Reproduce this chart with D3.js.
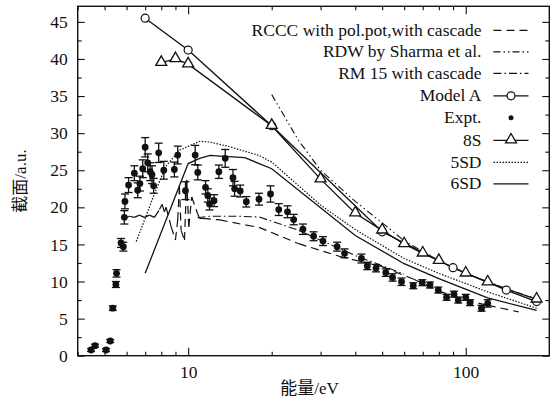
<!DOCTYPE html>
<html>
<head>
<meta charset="utf-8">
<script src="https://cdn.jsdelivr.net/npm/d3@7"></script>
<style>
body { margin: 0; background: #fff; }
text { font-family: "Liberation Serif", "Noto Sans CJK SC", serif; fill: #111; }
</style>
</head>
<body>
<div id="draw"></div>
<script>
// experimental points
var expE = [4.47, 4.62, 5.06, 5.24, 5.35, 5.49, 5.52, 5.73, 5.84, 5.89, 5.92, 6.1, 6.4, 6.58, 6.7, 6.86, 7.0, 7.15, 7.3, 7.41, 7.51, 7.83, 8.17, 8.92, 9.17, 9.78, 10.6, 10.83, 11.55, 11.77, 11.94, 12.4, 12.9, 13.6, 14.5, 14.7, 15.4, 16.2, 18.0, 19.8, 21.2, 22.8, 24.0, 25.9, 28.3, 30.6, 34.4, 36.6, 42.1, 44.2, 47.5, 51.5, 54.5, 58.7, 64.7, 69.7, 74.3, 79.6, 85.3, 90.7, 94, 100, 103.6, 114, 120];
var expY = [0.77, 1.35, 0.77, 1.98, 6.4, 9.6, 11.1, 15.2, 14.7, 18.65, 20.8, 23.0, 24.6, 22.3, 23.2, 25.2, 28.1, 26.0, 24.8, 24.4, 22.9, 27.35, 25.0, 25.1, 27.05, 22.25, 27.05, 24.7, 22.7, 21.6, 20.45, 20.9, 24.8, 26.6, 24.0, 22.5, 22.2, 20.75, 21.1, 21.8, 19.7, 19.4, 18.35, 17.05, 16.1, 15.45, 14.7, 13.8, 13.1, 12.1, 11.8, 11.2, 10.55, 9.97, 9.43, 9.84, 9.53, 8.85, 7.87, 8.3, 7.5, 7.87, 7.15, 6.4, 7.05];
var expErr = [0.2, 0.2, 0.2, 0.2, 0.3, 0.4, 0.5, 0.6, 0.6, 0.9, 1.0, 1.0, 1.0, 1.0, 1.0, 1.2, 1.3, 1.2, 1.2, 1.2, 1.0, 1.3, 1.2, 1.0, 1.2, 1.2, 1.3, 1.0, 0.9, 0.9, 0.8, 0.8, 0.9, 1.2, 1.1, 1.0, 0.8, 0.7, 0.8, 1.1, 0.8, 0.8, 0.7, 0.7, 0.6, 0.6, 0.6, 0.6, 0.6, 0.5, 0.5, 0.5, 0.5, 0.5, 0.4, 0.4, 0.4, 0.4, 0.4, 0.4, 0.4, 0.4, 0.4, 0.4, 0.5];

// RCCC with pol.pot, with cascade
var rcccE = [5.89, 6.14, 6.4, 6.67, 6.96, 7.25, 7.56, 7.88, 8.06, 8.21, 8.33, 8.68, 9.0, 9.17, 9.3, 9.43, 9.7, 9.88, 10.05, 10.3, 10.8, 11.0, 11.3, 13, 16.2, 18, 25, 35, 50, 65, 80, 100, 120, 155];
var rcccY = [18.5, 18.8, 18.65, 18.95, 18.65, 18.95, 18.65, 19.7, 20.4, 19.4, 20.0, 17.4, 15.6, 18.3, 22.8, 16.9, 15.6, 23.7, 17.4, 21.4, 19.2, 18.5, 18.5, 18.3, 17.6, 17.3, 15.1, 13.4, 12.0, 10.3, 8.7, 7.5, 6.8, 5.9];

// RDW by Sharma et al.
var rdwE = [20, 25, 30, 40, 50, 60, 80, 100, 150, 180];
var rdwY = [35.2, 29.0, 25.0, 20.8, 17.9, 15.5, 12.8, 11.1, 8.6, 7.7];

// RM 15 with cascade
var rmE = [10.8, 12, 15, 18, 25, 40, 60];
var rmY = [18.6, 18.8, 18.8, 18.7, 16.9, 13.5, 11.0];

// Model A
var modAE = [7, 10, 20, 50, 90, 140, 180];
var modAY = [45.5, 41.2, 31.0, 16.7, 11.86, 8.85, 7.3];

// 8S
var s8E = [8, 9, 10, 20, 30, 40, 50, 60, 70, 80, 100, 120, 180];
var s8Y = [39.5, 40.0, 39.3, 31.0, 23.8, 19.2, 16.9, 15.05, 13.8, 12.8, 11.1, 9.9, 7.6];

// 5SD
var sd5E = [6.5, 7, 7.5, 8.3, 9.3, 11, 12, 14, 18, 20, 30, 40, 60, 80, 120, 180];
var sd5Y = [15.4, 18.5, 21.5, 25.5, 27.7, 28.9, 28.8, 28.2, 27.0, 26.1, 20.3, 17.0, 13.1, 11.1, 8.6, 6.4];

// 6SD
var sd6E = [7, 10, 11, 12, 13, 16, 20, 40, 60, 80, 120, 180];
var sd6Y = [11.1, 25.9, 26.6, 27.0, 26.9, 26.7, 25.2, 16.2, 12.4, 10.4, 7.8, 6.1];

var xMajor = [10, 100];
var xMinor = [4, 5, 6, 7, 8, 9, 20, 30, 40, 50, 60, 70, 80, 90];
var yMajor = [0, 5, 10, 15, 20, 25, 30, 35, 40, 45];
var yMinor = [2.5, 7.5, 12.5, 17.5, 22.5, 27.5, 32.5, 37.5, 42.5];

var legendNames = ['RCCC with pol.pot,with cascade', 'RDW by Sharma et al.', 'RM 15 with cascade', 'Model A', 'Expt.', '8S', '5SD', '6SD'];

var W = 556, H = 410;
var margin = { top: 6.3, right: 6.7, bottom: 54.3, left: 77.7 },
	width = W - margin.left - margin.right,
	height = H - margin.top - margin.bottom;

var svg = d3.select('#draw').append('svg').attr('width', W).attr('height', H)
	.append('g').attr('transform', 'translate(' + margin.left + ',' + margin.top + ')');

var x = d3.scaleLog().domain([4, 200]).range([0, width]);
var y = d3.scaleLinear().domain([0, 47.1]).range([height, 0]);

function pts(xs, ys) {
	return xs.map(function (v, i) { return [v, ys[i]]; });
}
var line = d3.line().x(function (d) { return x(d[0]); }).y(function (d) { return y(d[1]); });

// axes (ticks pointing in)
function tickAxis(gen, vals, len, fmt) {
	return gen.tickValues(vals).tickSizeInner(-len).tickSizeOuter(0).tickPadding(10).tickFormat(fmt);
}
var noLab = function () { return ''; };
var axes = [
	[d3.axisBottom(x), xMajor, 8, function (d) { return d; }, 'translate(0,' + height + ')'],
	[d3.axisBottom(x), xMinor, 4, noLab, 'translate(0,' + height + ')'],
	[d3.axisTop(x), xMajor, 8, noLab, null],
	[d3.axisTop(x), xMinor, 4, noLab, null],
	[d3.axisLeft(y), yMajor, 7, function (d) { return d; }, null],
	[d3.axisLeft(y), yMinor, 4, noLab, null],
	[d3.axisRight(y), yMajor, 7, noLab, 'translate(' + width + ',0)'],
	[d3.axisRight(y), yMinor, 4, noLab, 'translate(' + width + ',0)']
];
axes.forEach(function (a) {
	var g = svg.append('g').call(tickAxis(a[0], a[1], a[2], a[3]));
	if (a[4]) g.attr('transform', a[4]);
	g.select('.domain').remove();
	g.selectAll('line').attr('stroke', '#111').attr('stroke-width', 1.1);
	g.selectAll('text').style('font-size', '17.5px').attr('fill', '#111')
		.style('font-family', '"Liberation Serif", serif');
});
svg.append('rect').attr('width', width).attr('height', height)
	.attr('fill', 'none').attr('stroke', '#111').attr('stroke-width', 1.4);

// experimental points with error bars
var expt = svg.append('g');
expE.forEach(function (e, i) {
	var cx = x(e), y0 = y(expY[i] - expErr[i]), y1 = y(expY[i] + expErr[i]);
	var g = expt.append('g').attr('stroke', '#111').attr('stroke-width', 1.3);
	g.append('line').attr('x1', cx).attr('x2', cx).attr('y1', y0).attr('y2', y1);
	g.append('line').attr('x1', cx - 4).attr('x2', cx + 4).attr('y1', y0).attr('y2', y0);
	g.append('line').attr('x1', cx - 4).attr('x2', cx + 4).attr('y1', y1).attr('y2', y1);
	expt.append('circle').attr('cx', cx).attr('cy', y(expY[i])).attr('r', 3.4).attr('fill', '#111');
});

// RCCC: dash pattern restarts on every segment
var rccc = pts(rcccE, rcccY);
for (var i = 0; i < rccc.length - 1; i++) {
	svg.append('path').attr('d', line([rccc[i], rccc[i + 1]]))
		.attr('fill', 'none').attr('stroke', '#111').attr('stroke-width', 1.2)
		.attr('stroke-dasharray', '8,5');
}

var styles = [
	{ d: pts(rdwE, rdwY), dash: '7,3,1.5,3,1.5,3', w: 1.1 },
	{ d: pts(rmE, rmY), dash: '8,3,1.5,3', w: 1.1 },
	{ d: pts(sd5E, sd5Y), dash: '1.5,1.5', w: 1.2 },
	{ d: pts(sd6E, sd6Y), dash: null, w: 1.3 },
	{ d: pts(modAE, modAY), dash: null, w: 1.3 },
	{ d: pts(s8E, s8Y), dash: null, w: 1.3 }
];
styles.forEach(function (s) {
	svg.append('path').attr('d', line(s.d)).attr('fill', 'none').attr('stroke', '#111')
		.attr('stroke-width', s.w).attr('stroke-dasharray', s.dash);
});

var tri = d3.symbol().type(d3.symbolTriangle).size(52);
function triangle(g, cx, cy) {
	g.append('path').attr('d', tri()).attr('transform', 'translate(' + cx + ',' + (cy - 0.5) + ')')
		.attr('fill', '#fff').attr('stroke', '#111').attr('stroke-width', 1.3);
}
function ring(g, cx, cy) {
	g.append('circle').attr('cx', cx).attr('cy', cy).attr('r', 4)
		.attr('fill', '#fff').attr('stroke', '#111').attr('stroke-width', 1.2);
}
modAE.forEach(function (e, i) { ring(svg, x(e), y(modAY[i])); });
s8E.forEach(function (e, i) { triangle(svg, x(e), y(s8Y[i])); });

// legend
var leg = svg.append('g').attr('transform', 'translate(' + (481.5 - margin.left) + ',0)');
var rowY = [24, 45.5, 67, 89.5, 111.5, 134, 156, 177.5];
legendNames.forEach(function (n, i) {
	var ry = rowY[i];
	leg.append('text').attr('x', 0).attr('y', ry + 5.5).attr('text-anchor', 'end')
		.style('font-size', '17.5px').text(n);
	var x0 = 12, x1 = 47, xm = 29.5;
	function seg(dash) {
		leg.append('line').attr('x1', x0).attr('x2', x1).attr('y1', ry).attr('y2', ry)
			.attr('stroke', '#111').attr('stroke-width', 1.2).attr('stroke-dasharray', dash);
	}
	if (i === 0) seg('8,5');
	if (i === 1) seg('7,3,1.5,3,1.5,3');
	if (i === 2) seg('8,3,1.5,3');
	if (i === 3) { seg(null); ring(leg, xm, ry); }
	if (i === 4) leg.append('circle').attr('cx', xm).attr('cy', ry).attr('r', 2.5).attr('fill', '#111');
	if (i === 5) { seg(null); triangle(leg, xm, ry); }
	if (i === 6) seg('1.5,1.5');
	if (i === 7) seg(null);
});

// axis titles
svg.append('text').attr('x', width / 2 - 4).attr('y', height + 38)
	.attr('text-anchor', 'middle').style('font-size', '17px').text('能量/eV');
svg.append('text').attr('transform', 'translate(' + (-52) + ',' + (height / 2) + ') rotate(-90)')
	.attr('text-anchor', 'middle').style('font-size', '17px').text('截面/a.u.');
</script>
</body>
</html>
